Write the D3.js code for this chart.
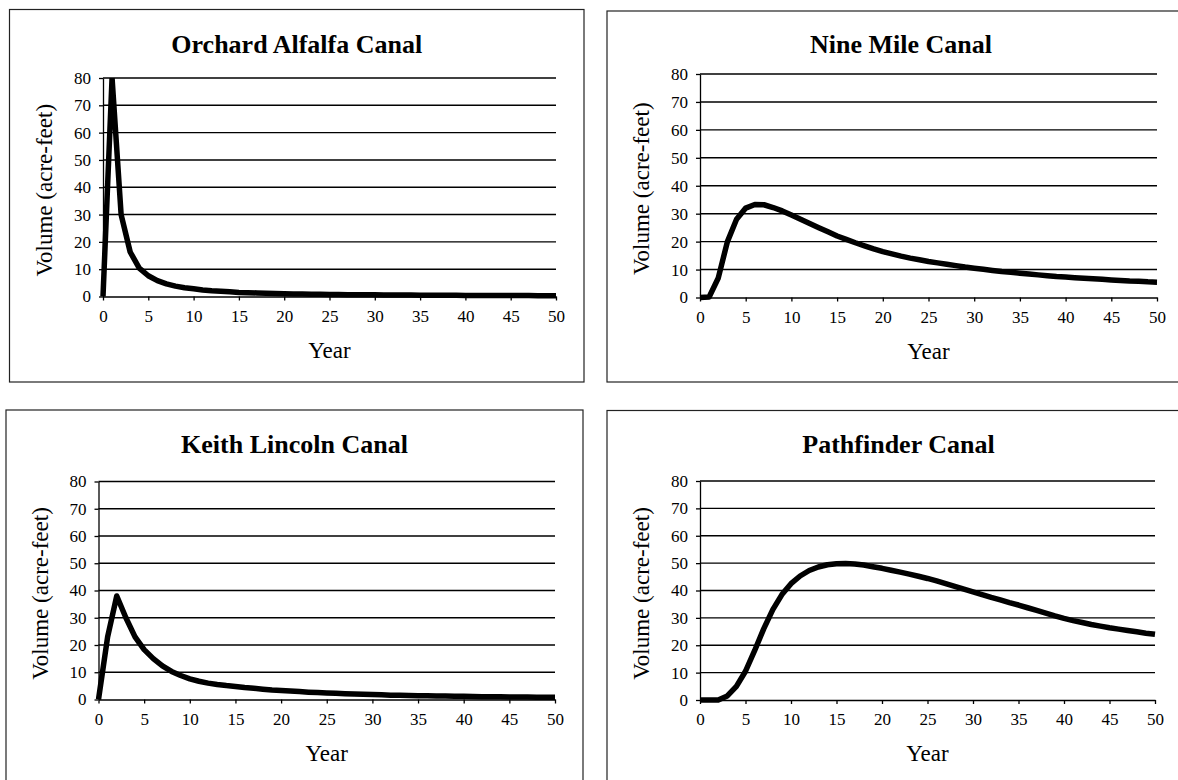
<!DOCTYPE html>
<html>
<head>
<meta charset="utf-8">
<script src="https://cdn.jsdelivr.net/npm/d3@7"></script>
<style>
  body { margin: 0; background: #fff; }
  svg { display: block; }
  text { font-family: "Liberation Serif", "Times New Roman", serif; fill: #000; }
  .tick text { font-size: 17px; }
  .axis path, .axis line { stroke: #000; stroke-width: 1.3; }
</style>
</head>
<body>
<svg id="chart" width="1178" height="780"></svg>
<script>
// values, one per year 0..50
const years = d3.range(0, 51)
const xTicks = [0, 5, 10, 15, 20, 25, 30, 35, 40, 45, 50]
const yTicks = [0, 10, 20, 30, 40, 50, 60, 70, 80]
const titles = ["Orchard Alfalfa Canal", "Nine Mile Canal", "Keith Lincoln Canal", "Pathfinder Canal"]

const orchard = [0, 80, 30, 16.3, 10.4, 7.6, 5.8, 4.6, 3.8, 3.2, 2.8, 2.4, 2.1, 1.9, 1.7, 1.5,
  1.4, 1.3, 1.2, 1.1, 1.0, 0.95, 0.9, 0.85, 0.8, 0.75, 0.72, 0.68, 0.65, 0.62, 0.6,
  0.57, 0.55, 0.53, 0.51, 0.49, 0.47, 0.45, 0.44, 0.42, 0.41, 0.4, 0.38, 0.37, 0.36, 0.35,
  0.34, 0.33, 0.32, 0.31, 0.3]

const nineMile = [0, 0.2, 7, 20, 28, 32, 33.3, 33.2, 32.2, 31, 29.5, 28, 26.5, 25, 23.5, 22,
  20.8, 19.6, 18.5, 17.4, 16.4, 15.6, 14.8, 14.1, 13.5, 12.9, 12.4, 11.9, 11.4, 10.9, 10.5,
  10.1, 9.7, 9.3, 9.0, 8.7, 8.4, 8.1, 7.8, 7.5, 7.3, 7.1, 6.9, 6.7, 6.5, 6.3,
  6.1, 5.9, 5.8, 5.6, 5.5]

const keithLincoln = [0, 23, 38, 30, 23, 18.3, 15, 12.3, 10.3, 8.8, 7.6, 6.7, 6.0, 5.5, 5.1, 4.8,
  4.4, 4.1, 3.8, 3.5, 3.3, 3.1, 2.9, 2.7, 2.55, 2.4, 2.25, 2.1, 2.0, 1.9, 1.8,
  1.7, 1.6, 1.55, 1.5, 1.4, 1.35, 1.3, 1.25, 1.2, 1.15, 1.1, 1.05, 1.0, 1.0, 0.95,
  0.9, 0.9, 0.85, 0.8, 0.8]

const pathfinder = [0, 0, 0, 1.5, 5, 10.5, 18, 26, 33, 38.5, 42.5, 45.3, 47.3, 48.6, 49.4, 49.8,
  49.9, 49.7, 49.3, 48.7, 48.1, 47.4, 46.7, 46, 45.2, 44.4, 43.5, 42.5, 41.5, 40.5, 39.5,
  38.5, 37.5, 36.6, 35.6, 34.7, 33.7, 32.7, 31.7, 30.7, 29.8, 29, 28.3, 27.6, 27, 26.4,
  25.9, 25.4, 24.9, 24.4, 24]

const series = [orchard, nineMile, keithLincoln, pathfinder]

// where each scanned panel sits on the page (the scan is slightly skewed)
const layout = [
  {box: [9.5, 9.5, 584, 382], plot: [103, 556, 78, 296.5], titleY: 53},
  {box: [607, 11, 1195, 382], plot: [700, 1157, 74, 297.5], titleY: 53},
  {box: [6, 410, 583, 800], plot: [98.5, 555, 481.5, 699.5], titleY: 453},
  {box: [607, 410.5, 1190, 800], plot: [700, 1155, 481, 700], titleY: 453}
]

const svg = d3.select("#chart")
svg.append("rect").attr("width", 1178).attr("height", 780).attr("fill", "#fff")

layout.forEach((p, i) => {
  const [bx1, by1, bx2, by2] = p.box
  const [l, r, t, b] = p.plot
  const g = svg.append("g")

  g.append("rect")
    .attr("x", bx1).attr("y", by1)
    .attr("width", bx2 - bx1).attr("height", by2 - by1)
    .attr("fill", "none").attr("stroke", "#222").attr("stroke-width", 1.2)

  const x = d3.scaleLinear().domain([0, 50]).range([l, r])
  const y = d3.scaleLinear().domain([0, 80]).range([b, t])

  // horizontal gridlines
  g.selectAll(".grid")
    .data(yTicks.filter(v => v > 0))
    .enter().append("line")
    .attr("x1", l).attr("x2", r)
    .attr("y1", d => y(d)).attr("y2", d => y(d))
    .attr("stroke", "#000").attr("stroke-width", 1.4)

  g.append("g")
    .attr("class", "axis")
    .attr("transform", `translate(0, ${b})`)
    .call(d3.axisBottom(x).tickValues(xTicks).tickSizeInner(4).tickSizeOuter(0).tickPadding(9))

  g.append("g")
    .attr("class", "axis")
    .attr("transform", `translate(${l}, 0)`)
    .call(d3.axisLeft(y).tickValues(yTicks).tickSizeInner(4).tickSizeOuter(0).tickPadding(8))

  g.selectAll(".tick text").attr("font-size", 17)

  const clipId = "clip" + i
  svg.append("clipPath").attr("id", clipId)
    .append("rect")
    .attr("x", l - 3).attr("y", t)
    .attr("width", r - l + 8).attr("height", b - t + 5)

  const line = d3.line()
    .x((d, j) => x(years[j]))
    .y(d => y(d))

  g.append("path")
    .datum(series[i])
    .attr("clip-path", `url(#${clipId})`)
    .attr("d", line)
    .attr("fill", "none")
    .attr("stroke", "#000")
    .attr("stroke-width", 5.5)
    .attr("stroke-linejoin", "round")

  g.append("text")
    .attr("x", (bx1 + bx2) / 2).attr("y", p.titleY)
    .attr("text-anchor", "middle")
    .attr("font-size", 26).attr("font-weight", "bold")
    .text(titles[i])

  g.append("text")
    .attr("x", (l + r) / 2).attr("y", b + 61)
    .attr("text-anchor", "middle")
    .attr("font-size", 23)
    .text("Year")

  g.append("text")
    .attr("transform", `translate(${l - 51}, ${(t + b) / 2 + 3}) rotate(-90)`)
    .attr("text-anchor", "middle")
    .attr("font-size", 23)
    .text("Volume (acre-feet)")
})
</script>
</body>
</html>
